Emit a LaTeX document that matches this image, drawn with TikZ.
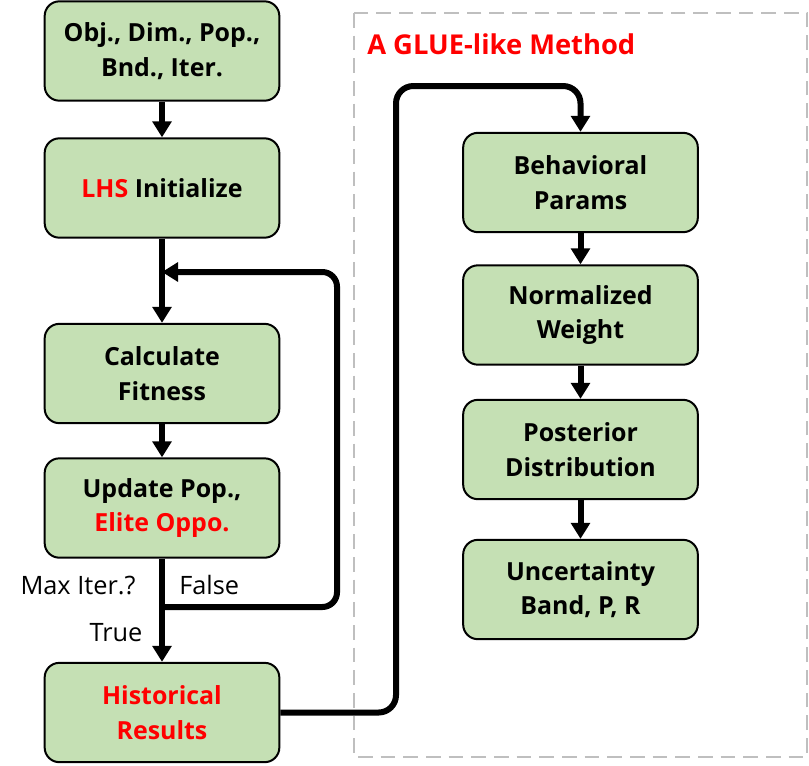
\documentclass[tikz,border=0pt]{standalone}
\usepackage{fontspec}
\setmainfont{Open Sans}
\usetikzlibrary{arrows.meta}
\definecolor{boxgreen}{HTML}{C5E0B4}
\definecolor{dashgray}{HTML}{BFBFBF}
\begin{document}
\begin{tikzpicture}[x=0.75pt,y=-0.75pt,
  box/.style={draw=black, fill=boxgreen, rounded corners=11pt, line width=1.5pt,
    minimum width=176pt, minimum height=74.5pt, align=center, inner sep=2pt,
    font=\fontsize{18.7}{26}\selectfont\bfseries},
  conn/.style={line width=4.5pt, -{Triangle[width=14pt,length=12pt]}},
  lbl/.style={font=\fontsize{19}{22}\selectfont, inner sep=0pt}]
\useasboundingbox (0,0) rectangle (809,765);
% dashed frame
\draw[dashgray, line width=1.5pt, dash pattern=on 11pt off 6pt] (354,13) rectangle (807,757);
\node[anchor=west, text=red, font=\fontsize{20.5}{24}\selectfont\bfseries, inner sep=0pt] (title) at (367,44) {A GLUE-like Method};
% left column
\node[box] (b1) at (162,51) {Obj., Dim., Pop.,\\Bnd., Iter.};
\node[box] (b2) at (162,188) {\textcolor{red}{LHS} Initialize};
\node[box] (b3) at (162,373.5) {Calculate\\Fitness};
\node[box] (b4) at (162,508) {Update Pop.,\\\textcolor{red}{Elite Oppo.}};
\node[box] (b5) at (162,712.5) {\textcolor{red}{Historical}\\\textcolor{red}{Results}};
% right column
\node[box] (b6) at (580.5,182.5) {Behavioral\\Params};
\node[box] (b7) at (580.5,315) {Normalized\\Weight};
\node[box] (b8) at (580.5,449.5) {Posterior\\Distribution};
\node[box] (b9) at (580.5,589.5) {Uncertainty\\Band, P, R};
% coordinates
\coordinate (fb) at (162,607);
\coordinate (lp) at (162,272);
% arrows left
\draw[conn] (b1) -- (b2);
\draw[conn] (b2) -- (b3);
\draw[conn] (b3) -- (b4);
\draw[conn] (b4) -- (b5);
\draw[conn, rounded corners=11pt] (fb) -- (337,607) -- (337,272) -- (lp);
% arrows right
\draw[conn] (b6) -- (b7);
\draw[conn] (b7) -- (b8);
\draw[conn] (b8) -- (b9);
\draw[conn, rounded corners=13pt] (b5.east) -- (396,712.5) -- (396,86) -- (580.5,86) -- (b6.north);
% labels
\node[lbl] (mx) at (78,585) {Max Iter.?};
\node[lbl, anchor=west] (fl) at (179,585) {False};
\node[lbl] (tr) at (116,633) {True};
\end{tikzpicture}
\end{document}
